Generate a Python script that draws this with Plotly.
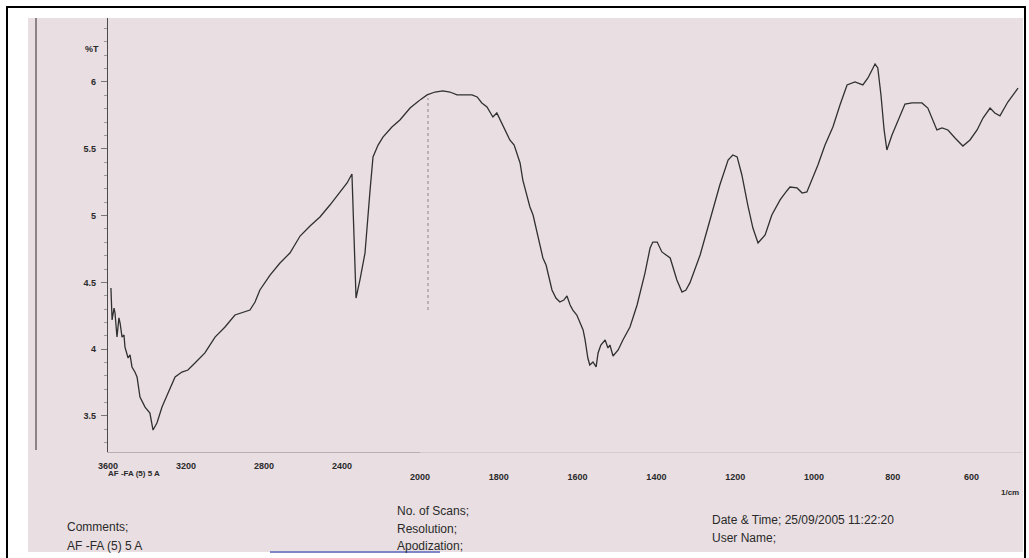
import plotly.graph_objects as go

# ---- data (wavenumber in 1/cm, transmittance %T) ----
wn_high = [3585, 3579, 3569, 3564, 3559, 3554, 3544, 3538, 3528, 3518, 3513, 3497, 3487, 3477,
           3462, 3451, 3436, 3410, 3385, 3369, 3349, 3323, 3292, 3256, 3221, 3190, 3154, 3103,
           3051, 3000, 2949, 2897, 2872, 2846, 2821, 2769, 2718, 2667, 2615, 2564, 2513, 2462,
           2410, 2374, 2349, 2338, 2328, 2308, 2282, 2256, 2241, 2215, 2190, 2144, 2103, 2051, 2000]
t_high = [4.458, 4.219, 4.308, 4.271, 4.181, 4.091, 4.234, 4.196, 4.091, 4.106, 4.016, 3.934, 3.957, 3.867,
          3.829, 3.792, 3.642, 3.567, 3.522, 3.395, 3.448, 3.567, 3.672, 3.792, 3.829, 3.844, 3.897, 3.972,
          4.091, 4.166, 4.256, 4.278, 4.293, 4.353, 4.443, 4.555, 4.645, 4.720, 4.847, 4.922, 4.990, 5.079,
          5.177, 5.244, 5.311, 4.892, 4.383, 4.518, 4.720, 5.192, 5.439, 5.528, 5.588, 5.663, 5.716, 5.805, 5.865]

wn_low = [2000, 1982, 1962, 1942, 1924, 1906, 1886, 1868, 1855, 1843, 1830, 1815, 1805, 1797, 1784,
          1772, 1761, 1754, 1746, 1739, 1728, 1721, 1713, 1703, 1695, 1688, 1680, 1675, 1665, 1655,
          1645, 1635, 1627, 1619, 1612, 1602, 1594, 1586, 1581, 1574, 1569, 1561, 1553, 1548, 1541,
          1530, 1523, 1518, 1510, 1497, 1485, 1467, 1449, 1429, 1416, 1409, 1398, 1386, 1365, 1348,
          1335, 1325, 1315, 1289, 1264, 1239, 1218, 1206, 1195, 1183, 1168, 1155, 1142, 1124, 1107,
          1086, 1071, 1061, 1043, 1030, 1018, 1005, 990, 972, 952, 934, 916, 896, 876, 863,
          845, 838, 830, 822, 815, 802, 789, 777, 769, 751, 726, 711, 701, 688, 675,
          660, 642, 622, 604, 586, 571, 553, 541, 528, 508, 482]
t_low = [5.865, 5.903, 5.925, 5.933, 5.925, 5.903, 5.903, 5.903, 5.888, 5.843, 5.813, 5.738, 5.768, 5.716, 5.641,
         5.566, 5.528, 5.469, 5.394, 5.266, 5.154, 5.064, 5.004, 4.877, 4.780, 4.683, 4.630, 4.570, 4.443, 4.383,
         4.353, 4.368, 4.398, 4.331, 4.293, 4.256, 4.204, 4.144, 4.069, 3.934, 3.882, 3.904, 3.867, 3.972, 4.031,
         4.069, 4.009, 4.031, 3.949, 3.994, 4.069, 4.166, 4.331, 4.570, 4.757, 4.802, 4.802, 4.728, 4.683, 4.518,
         4.428, 4.443, 4.496, 4.705, 4.967, 5.229, 5.416, 5.454, 5.439, 5.304, 5.079, 4.907, 4.795, 4.855, 5.004,
         5.117, 5.177, 5.214, 5.207, 5.169, 5.177, 5.266, 5.379, 5.528, 5.663, 5.828, 5.978, 6.000, 5.978, 6.030,
         6.135, 6.105, 5.903, 5.641, 5.491, 5.603, 5.693, 5.775, 5.835, 5.843, 5.843, 5.805, 5.738, 5.641, 5.656,
         5.641, 5.581, 5.521, 5.566, 5.641, 5.730, 5.805, 5.768, 5.746, 5.850, 5.955]

x_ticks_high = [3600, 3200, 2800, 2400]
x_ticks_low = [2000, 1800, 1600, 1400, 1200, 1000, 800, 600]
y_ticks = [3.5, 4, 4.5, 5, 5.5, 6]
y_ticklabels = ["3.5", "4", "4.5", "5", "5.5", "6"]

# ---- layout geometry (pixels) ----
W, H = 1029, 558
L, R, T, B = 108, 1022, 18, 452
SPLIT = 420


def px(x):
    return (x - L) / (R - L)


def py(y):
    return (B - y) / (B - T)


PINK = "#e9dee2"
LINE = "#303030"
TXT = "#2a2a2a"

fig = go.Figure()
fig.add_trace(go.Scatter(x=wn_high, y=t_high, mode="lines", xaxis="x", yaxis="y",
                         line=dict(color=LINE, width=1.3), showlegend=False, hoverinfo="skip"))
fig.add_trace(go.Scatter(x=wn_low, y=t_low, mode="lines", xaxis="x2", yaxis="y",
                         line=dict(color=LINE, width=1.3), showlegend=False, hoverinfo="skip"))

tickfont = dict(family="Liberation Sans, Arial, sans-serif", size=9, color=TXT, weight="bold")

split_frac = px(SPLIT)
fig.update_layout(
    width=W, height=H, autosize=False,
    margin=dict(l=L, r=W - R, t=T, b=H - B, pad=0),
    paper_bgcolor="white", plot_bgcolor=PINK,
    xaxis=dict(domain=[0, split_frac], range=[3600, 2000], tickvals=x_ticks_high,
               ticktext=[str(v) for v in x_ticks_high], showgrid=False, zeroline=False,
               showline=True, linecolor="#b9aeb3", linewidth=1, ticks="", tickfont=tickfont,
               ticklabelstandoff=5, anchor="y"),
    xaxis2=dict(domain=[split_frac, 1], range=[2000, 472], tickvals=x_ticks_low,
                ticktext=[str(v) for v in x_ticks_low], showgrid=False, zeroline=False,
                showline=True, linecolor="#d6cbd0", linewidth=1, ticks="", tickfont=tickfont,
                ticklabelstandoff=16, anchor="y"),
    yaxis=dict(range=[3.2305, 6.479], tickvals=y_ticks, ticktext=y_ticklabels, showgrid=False,
               zeroline=False, showline=True, linecolor="#4a4a4a", linewidth=1.3,
               ticks="outside", ticklen=6, tickcolor="#777", tickwidth=1, tickfont=tickfont,
               ticklabelstandoff=3,
               minor=dict(dtick=0.1, ticks="outside", ticklen=3, tickcolor="#999")),
)

shapes = [
    # scanned paper
    dict(type="rect", xref="paper", yref="paper", x0=px(28), x1=px(1023), y0=py(552), y1=py(18),
         fillcolor=PINK, line=dict(width=0), layer="below"),
    # scan artefact lines
    dict(type="line", xref="paper", yref="paper", x0=px(36), x1=px(36), y0=py(450), y1=py(18),
         line=dict(color="#6b6466", width=1.5), layer="below"),
    dict(type="line", xref="paper", yref="paper", x0=px(428), x1=px(428), y0=py(310), y1=py(98),
         line=dict(color="#8d8589", width=1, dash="dot"), layer="below"),
    dict(type="line", xref="paper", yref="paper", x0=px(270), x1=px(440), y0=py(552), y1=py(552),
         line=dict(color="#7f86c8", width=2), layer="below"),
    # outer frame
    dict(type="rect", xref="paper", yref="paper", x0=px(7), x1=px(1025), y0=py(562), y1=py(7),
         line=dict(color="black", width=2), fillcolor="rgba(0,0,0,0)", layer="above"),
]
fig.update_layout(shapes=shapes)

font_small = dict(family="Liberation Sans, Arial, sans-serif", size=8, color=TXT, weight="bold")
font_body = dict(family="Liberation Sans, Arial, sans-serif", size=12, color=TXT)

ann = [
    dict(text="%T", x=px(101), y=py(49), xanchor="right", font=font_small | {"size": 9}),
    dict(text="AF -FA (5) 5 A", x=px(106), y=py(474), xanchor="left", font=font_small),
    dict(text="1/cm", x=px(1010), y=py(492), xanchor="center", font=font_small),
    dict(text="Comments;", x=px(65), y=py(527), xanchor="left", font=font_body),
    dict(text="AF -FA (5) 5 A", x=px(65), y=py(546), xanchor="left", font=font_body),
    dict(text="No. of Scans;", x=px(395), y=py(511), xanchor="left", font=font_body),
    dict(text="Resolution;", x=px(395), y=py(529), xanchor="left", font=font_body),
    dict(text="Apodization;", x=px(395), y=py(546), xanchor="left", font=font_body),
    dict(text="Date &amp; Time; 25/09/2005 11:22:20", x=px(710), y=py(520), xanchor="left", font=font_body),
    dict(text="User Name;", x=px(710), y=py(538), xanchor="left", font=font_body),
]
for a in ann:
    a.update(xref="paper", yref="paper", yanchor="middle", showarrow=False)
fig.update_layout(annotations=ann)

fig.write_html("out.html")
